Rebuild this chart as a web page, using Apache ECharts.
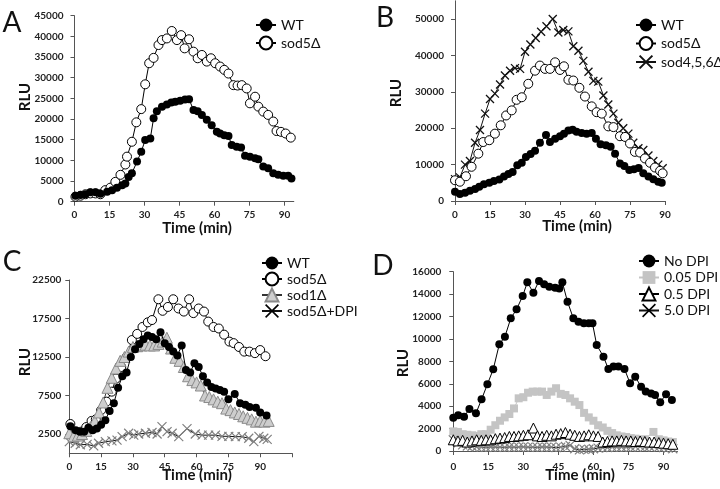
<!DOCTYPE html>
<html><head><meta charset="utf-8">
<script src="https://cdn.jsdelivr.net/npm/echarts@6/dist/echarts.min.js"></script>
<style>html,body{margin:0;padding:0;background:#fff}#c{width:720px;height:489px}</style>
</head><body><div id="c"></div>
<script>
// ---------- DATA: [time (min), RLU] ----------
const aWT = [[0.4,1450],[2.6,1600],[4.7,1800],[6.8,2300],[9,2300],[11.1,1900],[14,2400],[16.1,2800],[18.2,3400],[20.4,4000],[21.8,4400],[23.2,6000],[24.6,6900],[26.8,9700],[28.6,12100],[30.3,14900],[32.5,15300],[33.9,20200],[35.3,21900],[37.5,23000],[39.6,23500],[41.5,24000],[43.2,24200],[45.3,24400],[47.4,24700],[49.1,24800],[51,22200],[52.8,21900],[54.6,21000],[56.7,19800],[58.8,18500],[61,16900],[62.4,16500],[64.2,16100],[66,15900],[67.4,13700],[69.5,13300],[71.4,13100],[73.1,11100],[75.2,10900],[77.4,10500],[78.8,10300],[80.9,8500],[83,8100],[85.2,6900],[87.3,6500],[89.5,6300],[91.6,6300],[93,5600]];
const aSod5 = [[0.4,1200],[2.6,1450],[4.7,1800],[6.8,2000],[9,2000],[11.1,1800],[13.2,2800],[15.4,3400],[17.5,4800],[19.7,6500],[21.8,9000],[22.5,10900],[24.6,14500],[26.5,19200],[28.6,22400],[30.3,28400],[32,33500],[33.9,34800],[36,37900],[37.5,39100],[39.6,39500],[41.7,41300],[43.9,39100],[45.7,40300],[47.2,37100],[49.1,39300],[51,36300],[52.8,34700],[54.6,35500],[56.7,33900],[58.5,34700],[60.3,33500],[62.4,32700],[64.2,31900],[66,31000],[68.1,28200],[69.9,28100],[71.7,28200],[73.8,27400],[75.2,23800],[77.4,25400],[78.8,23000],[80.9,21800],[83,21000],[85.2,19400],[86.6,17100],[88.5,16900],[90.5,16500],[92.7,15500]];

const bWT = [[0,2550],[2.1,1900],[4.3,2300],[6.4,2800],[8.6,3300],[10.4,3900],[12.4,4600],[14.7,5000],[16.7,5500],[19,5900],[21,6700],[22.9,7400],[24.7,8000],[26.7,9800],[28.6,10500],[30.4,12100],[32.4,12900],[34.3,13800],[36.4,16000],[39,18100],[40.7,16200],[42.9,17100],[45,17800],[46.7,18500],[48.6,19400],[50.4,19600],[52.1,19000],[54.3,18700],[56.4,18500],[58.6,18700],[60.4,17100],[62.4,15600],[64.7,15300],[66.7,14900],[68.6,13000],[70.7,10300],[72.6,9600],[74.7,8500],[76.7,8700],[78.7,9100],[80.7,7600],[82.9,6700],[85,6000],[87.1,5300],[88.6,5000]];
const bSod5 = [[0,5700],[2.1,5300],[4.7,6800],[7.1,9400],[10,13000],[12.1,16200],[14.7,16700],[17.1,18500],[19.6,20800],[21.9,23500],[24.3,24900],[26.4,27800],[28.6,28500],[31.4,32200],[34.3,35800],[36.4,37200],[38.6,36300],[40.7,36300],[42.9,38100],[45,36000],[46.7,37000],[48.6,33300],[50.7,33100],[53.3,31100],[55.7,28700],[58.6,26000],[60.7,24400],[62.9,24000],[65.7,20500],[67.9,20300],[70.7,17800],[72.9,17600],[75,15800],[77.1,13500],[79.3,13300],[81.4,11700],[83.6,10500],[85.7,9200],[87.9,8300],[89,7600]];
const bSod456 = [[0,6000],[2.1,6500],[4.3,10000],[6.4,11000],[8.6,16000],[10.7,19500],[12.9,24000],[15,28000],[17.1,29500],[19.3,32000],[21.4,34500],[23.6,35800],[25.7,36500],[27.9,36300],[30,41000],[32.3,43000],[34.6,44800],[36.9,46500],[39.2,48000],[41.9,50000],[44.3,46300],[46.4,47000],[48.6,46600],[50.7,42500],[52.9,41300],[55,38500],[57.2,35500],[59.3,33000],[61.4,32800],[63.6,29000],[65.7,26500],[67.9,24000],[70,21500],[72.1,20000],[74.3,18500],[76.4,16000],[78.6,14500],[80.7,14000],[82.9,12500],[85,11000],[87.1,10000],[89,9000]];

const cWT = [[0.5,3500],[3,3000],[5,2800],[7,2800],[9,3300],[11,3000],[13,3200],[15,3700],[17,4300],[19,5500],[21,6500],[23,8500],[25,10000],[27,10500],[29,12500],[31,13500],[33,14200],[35,14800],[37,15300],[39,15100],[41,14800],[43,15700],[45,14300],[47,13800],[49,13200],[51,12700],[53,14000],[55,10800],[57,10500],[59,11700],[61,11200],[63,10000],[65,9200],[67,8600],[69,8400],[71,8200],[73,8000],[75,7000],[78,7700],[80.5,6500],[83,6300],[85,6000],[88,5900],[90,5300],[93,4900]];
const cSod5 = [[0.5,3800],[3,2700],[5.5,2800],[8,3400],[10.5,4200],[12.5,4400],[15,5600],[17.5,6700],[20,8000],[22,9700],[24.5,11200],[27,12500],[29.5,14700],[32,15500],[34.5,16400],[37,17000],[39,17300],[42,20000],[44,18500],[46.5,19000],[49,20000],[51.5,18800],[54,18400],[56.5,20000],[58.5,18200],[61,18800],[63.5,18400],[65.5,17100],[68,16400],[70.5,16200],[73,15400],[75.5,14500],[77.5,14300],[80,13800],[82.5,13200],[85,13200],[87.5,13000],[90,13400],[92.5,12600]];
const cSod1 = [[0,2600],[2,2200],[4,2300],[6,2500],[8,2900],[10,3400],[12,4200],[14,5300],[16,6600],[18,8500],[20,9800],[22,11000],[24,12000],[26,12500],[28,13200],[30,13800],[32,13900],[34,14000],[36,14100],[38,14000],[40,14000],[42,14200],[44,14500],[46,15000],[48,13600],[50,12400],[52,12000],[54,11200],[56,10000],[58,9500],[60,9200],[62,8800],[64,7500],[66,7300],[68,7000],[70,6700],[72,6500],[74,5800],[76,5600],[78,5300],[80,5100],[82,4800],[84,4600],[86,4400],[88,4100],[90,4200],[92,4100],[94,4200]];
const cSod5DPI = [[0,1500],[2.8,1300],[5.2,1100],[8.4,1150],[11.5,950],[13.8,1300],[17,1500],[20.1,1600],[22.5,1700],[24.9,2150],[28,2600],[30.4,2350],[32.7,2500],[35.9,2600],[39,2700],[41.4,2500],[43.7,3450],[46.1,2800],[48.5,2600],[51.6,2150],[55.5,3200],[59.4,2500],[62.6,2350],[65.7,2350],[68.9,2350],[72,2200],[75.2,2200],[78.3,2150],[81.5,2150],[84.6,1950],[87,1500],[89.4,2200],[91.7,1950],[93.3,1800]];

const dNo = [[0,2970],[2.1,3200],[4.6,3060],[6.9,3750],[9.7,3360],[12.1,4610],[14.6,5950],[17.1,7290],[19.7,9520],[22.1,10200],[24.6,11840],[27.1,12640],[29.7,13830],[31.7,15050],[34.3,14130],[36.7,15170],[38.9,14870],[41.1,14660],[43.6,14570],[45.4,14500],[46.7,15050],[48.9,13320],[51.4,11840],[53.6,11540],[55.9,11390],[58,11390],[59.6,11390],[61.4,9460],[64.3,8420],[66.4,7320],[68.6,7530],[70.7,7530],[73.3,7320],[75.7,6040],[77.9,6630],[80.4,5740],[82.4,5300],[84.7,5140],[86.4,5000],[88.6,4350],[91.1,5060],[93.6,4560]];
const d005 = [[0,1750],[2,1700],[4,1500],[6,1450],[8,1400],[10,1350],[12,1500],[14,1500],[16,1900],[18,2300],[20,2700],[22,3000],[24,3300],[26,3800],[28,4700],[30,4800],[32,5200],[34,5300],[36,5300],[38,5300],[40,5000],[42,5300],[44,5600],[46,5100],[48,5000],[50,4700],[52,4400],[54,4100],[56,3400],[58,3000],[60,2700],[62,2300],[64,2100],[66,1800],[68,1600],[70,1400],[72,1300],[74,1250],[76,1150],[78,1100],[80,1000],[82,1050],[85.7,1700],[88,1050],[90,950],[92,850],[94,800]];
const d05 = [[0,1000],[2,900],[4,950],[6,800],[8,900],[10,1000],[12,950],[14,1000],[16,1000],[18,1100],[20,1150],[22,1200],[24,1300],[26,1300],[28,1350],[30,1400],[32,1450],[34.3,2050],[36,1350],[38,1300],[40,1400],[42,1350],[44,1500],[46,1550],[48,1650],[50,1500],[52,1400],[54,1300],[56,1350],[58,1450],[60,1350],[62,1300],[64,800],[66,850],[68,900],[70,900],[72,950],[74,900],[76,900],[78,850],[80,900],[82,850],[84,800],[86,800],[88,750],[90,700],[92,650],[94,600]];
const d50 = [[0,1000],[2,700],[4,550],[6,450],[8,420],[10,380],[12,350],[14,330],[16,360],[18,340],[20,350],[22,330],[24,360],[26,340],[28,350],[30,370],[32,340],[34,350],[36,330],[38,360],[40,350],[42,340],[44,300],[46,350],[48,400],[50,500],[52,200],[54,100],[56,150],[58,160],[60,200],[62,250],[64,300],[66,310],[68,340],[70,350],[72,360],[74,340],[76,350],[78,400],[80,390],[82,350],[84,400],[86,410],[88,350],[90,300],[92,250],[94,200]];

const timeTicks = [0,15,30,45,60,75,90];
const bTickVals = [0,10000,20000,30000,40000,50000];
const cTickVals = [2500,7500,12500,17500,22500];

// ---------- STYLE ----------
const FONT = 'Lato, "Open Sans", sans-serif';
const X_PATH = 'path://M0,0L10,10M10,0L0,10';
const styles = {
  filled:{symbol:'circle',symbolSize:8,itemStyle:{color:'#000'},lineStyle:{color:'#000',width:1}},
  open:{symbol:'circle',symbolSize:9,itemStyle:{color:'#fff',borderColor:'#000',borderWidth:1},lineStyle:{color:'#000',width:1}},
  tri:{symbol:'triangle',symbolSize:11,itemStyle:{color:'#cdcdcd',borderColor:'#8a8a8a',borderWidth:1},lineStyle:{color:'#333',width:1}},
  square:{symbol:'rect',symbolSize:8,itemStyle:{color:'#c4c4c4'},lineStyle:{color:'#c4c4c4',width:1}},
  otri:{symbol:'triangle',symbolSize:10,itemStyle:{color:'#fff',borderColor:'#000',borderWidth:1},lineStyle:{color:'#000',width:1}},
  xdark:{symbol:X_PATH,symbolSize:8,itemStyle:{color:'rgba(0,0,0,0)',borderColor:'#111',borderWidth:1.3},lineStyle:{color:'#111',width:1}},
  xm:{symbol:X_PATH,symbolSize:9,itemStyle:{color:'rgba(0,0,0,0)',borderColor:'#808080',borderWidth:1.2},lineStyle:{color:'#111',width:1}}
};
function S(name, data, gi, st, z){
  const s = styles[st];
  return {type:'line',name,data,xAxisIndex:gi,yAxisIndex:gi,z:z||2,symbol:s.symbol,symbolSize:s.symbolSize,
    showAllSymbol:true,itemStyle:s.itemStyle,lineStyle:s.lineStyle,emphasis:{disabled:true},animation:false,clip:false};
}
const grids = [
  {left:74.5,top:15.7,width:219.3,height:186},
  {left:455,top:0.8,width:210,height:200.2},
  {left:69.3,top:280,width:222.7,height:173.25},
  {left:453.3,top:271.7,width:224.2,height:179.3}
];
const axisLine = {show:true,lineStyle:{color:'#555',width:1}};
const axisTick = {show:true,length:4,lineStyle:{color:'#555'}};
const lbl = {fontFamily:FONT,fontSize:10,fontWeight:'bold',color:'#222',formatter:v=>String(v)};
const A = (...o)=>Object.assign({},...o);
const xAxes = [
  {gridIndex:0,type:'value',min:0,max:94,interval:15,axisLine,axisTick:A(axisTick,{customValues:timeTicks}),axisLabel:A(lbl,{customValues:timeTicks,margin:8}),splitLine:{show:false}},
  {gridIndex:1,type:'value',min:0,max:90,interval:15,axisLine,axisTick,axisLabel:A(lbl,{margin:9}),splitLine:{show:false}},
  {gridIndex:2,type:'value',min:0,max:105,interval:15,axisLine,axisTick,axisLabel:A(lbl,{customValues:timeTicks,margin:8.5}),splitLine:{show:false}},
  {gridIndex:3,type:'value',min:0,max:96,interval:15,axisLine,axisTick:A(axisTick,{customValues:timeTicks}),axisLabel:A(lbl,{customValues:timeTicks,margin:10.5}),splitLine:{show:false}}
];
const yAxes = [
  {gridIndex:0,type:'value',min:0,max:45000,interval:5000,axisLine,axisTick,axisLabel:A(lbl,{margin:11}),splitLine:{show:false}},
  {gridIndex:1,type:'value',min:0,max:55000,interval:10000,axisLine,axisTick:A(axisTick,{customValues:bTickVals}),axisLabel:A(lbl,{margin:11,customValues:bTickVals}),splitLine:{show:false}},
  {gridIndex:2,type:'value',min:0,max:22500,interval:2500,axisLine,axisTick:A(axisTick,{customValues:cTickVals}),axisLabel:A(lbl,{margin:8,customValues:cTickVals}),splitLine:{show:false}},
  {gridIndex:3,type:'value',min:0,max:16000,interval:2000,axisLine,axisTick,axisLabel:A(lbl,{margin:12}),splitLine:{show:false}}
];
const series = [
  S('sod5Δ',aSod5,0,'open',2), S('WT',aWT,0,'filled',3),
  S('sod4,5,6Δ',bSod456,1,'xdark',2), S('sod5Δ',bSod5,1,'open',3), S('WT',bWT,1,'filled',4),
  S('sod5Δ+DPI',cSod5DPI,2,'xm',2), S('sod5Δ',cSod5,2,'open',3), S('sod1Δ',cSod1,2,'tri',4), S('WT',cWT,2,'filled',5),
  S('5.0 DPI',d50,3,'xm',2), S('0.05 DPI',d005,3,'square',3), S('0.5 DPI',d05,3,'otri',4), S('No DPI',dNo,3,'filled',5)
];
const legTxt = {fontFamily:FONT,fontSize:14,color:'#111',lineHeight:16};
const darkX = {borderColor:'#000',borderWidth:1.6};
const legends = [
  {data:['WT','sod5Δ'],left:255,top:17,itemGap:2},
  {data:['WT','sod5Δ','sod4,5,6Δ'],left:635,top:17,itemGap:2.5},
  {data:['WT','sod5Δ','sod1Δ',{name:'sod5Δ+DPI',itemStyle:darkX}],left:261,top:255,itemGap:0},
  {data:['No DPI','0.05 DPI','0.5 DPI',{name:'5.0 DPI',itemStyle:darkX}],left:638,top:253,itemGap:0.5}
].map(l=>Object.assign({orient:'vertical',itemWidth:20,itemHeight:16,selectedMode:false,textStyle:legTxt,padding:0},l));

function txt(x,y,t,size,weight,rot){
  return {type:'text',x,y,rotation:rot||0,style:{text:t,font:(weight||'normal')+' '+size+'px '+FONT,fill:'#111',align:'center',verticalAlign:'middle'}};
}
const graphics = [
  txt(12,23,'A',28), txt(385,18,'B',28), txt(12,262,'C',28), txt(383,266,'D',28),
  txt(197,228,'Time (min)',15,'bold'), txt(577,226,'Time (min)',15,'bold'),
  txt(197,475,'Time (min)',15,'bold'), txt(580,475,'Time (min)',15,'bold'),
  txt(25,97,'RLU',15,'bold',Math.PI/2), txt(396,93,'RLU',15,'bold',Math.PI/2),
  txt(25,362,'RLU',15,'bold',Math.PI/2), txt(403,363,'RLU',15,'bold',Math.PI/2)
];
const chart = echarts.init(document.getElementById('c'));
chart.setOption({animation:false,backgroundColor:'#fff',grid:grids,xAxis:xAxes,yAxis:yAxes,series,legend:legends,graphic:graphics});
</script></body></html>
